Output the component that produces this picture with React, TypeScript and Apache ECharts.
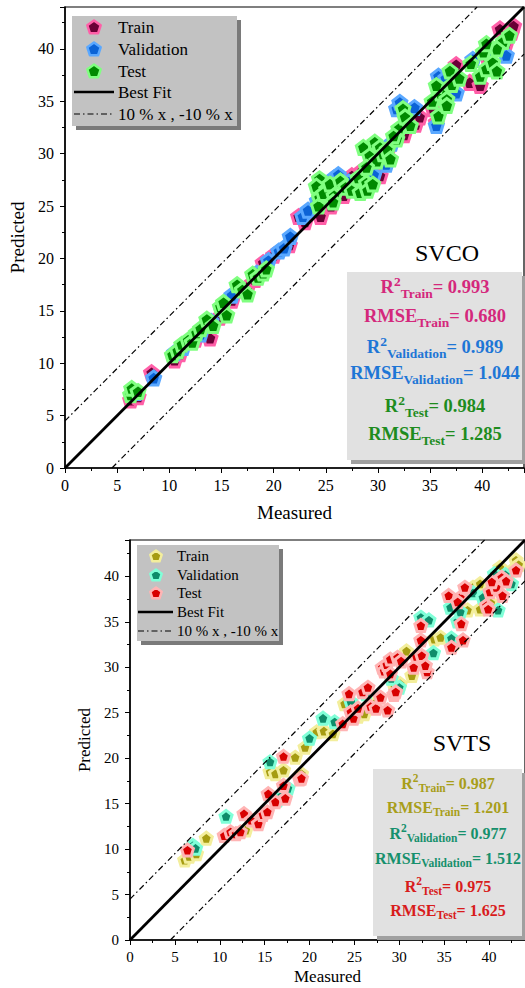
import React, { useEffect, useRef } from 'react';
import * as echarts from 'echarts';

// ---------- data (Measured, Predicted) ----------
const SVCO_TRAIN: number[][] = [
  [6.3, 6.5], [7, 6.8], [8.3, 9.1], [10.5, 10.3], [11, 10.9], [12.5, 12.3], [13.9, 12.4], [14.8, 14.4],
  [16, 16], [17.5, 17.3], [18.2, 18.0], [19, 19.6], [20, 20.3], [21.5, 21.3], [22.4, 24], [23, 23.5],
  [24.5, 24], [25.5, 25], [26.7, 26], [27.5, 27.9], [28.5, 28.4], [29.5, 28.6], [30.2, 27.9],
  [31, 30.5], [32.5, 31.8], [33.6, 32.8], [34, 33.5], [35.3, 34.3], [35.6, 33], [36.5, 36],
  [37.5, 38.5], [38.8, 36.8], [39.8, 36.5], [40.5, 39.2], [41.7, 41.9], [42.2, 40.3], [42.8, 41.6],
  [43, 42.2],
];
const SVCO_VAL: number[][] = [
  [6.8, 7.2], [8.5, 8.6], [10.5, 11], [11.3, 11.5], [13, 12.8], [14, 14], [15, 15.2], [16, 16.5],
  [18.4, 18.6], [19.5, 19.8], [20.5, 20.7], [21, 21], [21.6, 22.1], [22.8, 24], [23.3, 24.6],
  [24.2, 25.5], [25.8, 27.7], [26.2, 28], [27.2, 27.3], [29.6, 28.0], [30.8, 29], [31.3, 31],
  [31.8, 34.3], [32.1, 34.9], [33.5, 34.4], [35.6, 32.7], [35.8, 37.4], [36.5, 37.2], [37.5, 35.8],
  [39.1, 39], [40.8, 39.8], [42.3, 39.4],
];
const SVCO_TEST: number[][] = [
  [6.3, 7.0], [6.4, 7.6], [7.0, 7.3], [10.3, 10.8], [10.8, 11.2], [11.2, 11.8], [11.8, 12.2],
  [12.2, 12.0], [12.6, 12.9], [13.0, 13.3], [13.6, 14.2], [14.2, 13.6], [14.9, 15.4], [15.2, 15.8],
  [15.5, 14.6], [16.5, 17.5], [17.0, 17.0], [17.5, 16.6], [18.0, 18.5], [18.5, 18.2], [19, 18.6],
  [19.3, 19.0], [24.4, 27.6], [24.1, 26.9], [25.1, 26.6], [24.4, 25.8], [24.3, 25], [24.8, 26.2],
  [25.4, 27.1], [25.8, 26.0], [26.4, 27.4], [25.7, 25.4], [26.9, 26.8], [27.5, 26.5], [28.1, 27.7],
  [28.3, 26.3], [28.9, 27.2], [29.0, 26.5], [29.5, 27.1], [28.6, 30.6], [29.7, 31.1], [29.2, 29.8],
  [29.9, 29.3], [30.2, 30.6], [30.5, 30.0], [30.9, 30.4], [31.2, 29.5], [31.8, 31.4], [28.9, 28.7],
  [32.0, 32.4], [32.4, 34.3], [32.6, 33.5], [31.5, 31.7], [33.1, 32.7], [35.2, 35.0], [35.8, 33.6],
  [36.0, 35.8], [36.6, 35.2], [35.6, 36.5], [36.9, 37.9], [37.1, 36.6], [36.6, 34.6], [37.8, 37.2],
  [38.9, 38.6], [39.8, 37.4], [40.4, 38.1], [41.0, 38.7], [41.4, 37.9], [42, 40.7], [41.4, 40],
  [40.1, 39.7], [40.4, 40.5], [42.6, 41.3],
];

const SVTS_TRAIN: number[][] = [
  [6.1, 8.8], [6.6, 9.2], [7.4, 9.5], [8.5, 11.2], [12.9, 12.1], [15.6, 18.5], [16.2, 18.3],
  [17.1, 18.7], [18.4, 20.1], [19.1, 18.3], [19.5, 21.2], [20.8, 22.9], [21.6, 23.0], [22.6, 22.7],
  [23.9, 26], [25.4, 24.6], [26.1, 24.9], [27.2, 26], [29.5, 27.8], [30.1, 28.2], [30.8, 31.8],
  [31.4, 29.1], [33.9, 33.1], [34.6, 33.3], [36.1, 32.7], [37.6, 36.3], [38.2, 38.8], [39, 36.4],
  [39, 39.2], [40.2, 37.1], [41.2, 41], [42.6, 40.7], [43, 41.8], [43.3, 41.3],
];
const SVTS_VAL: number[][] = [
  [7, 10.4], [7.3, 10.1], [10.7, 13.6], [15.6, 19.6], [16.4, 15.4], [16.9, 15.9], [17.6, 16.7],
  [20, 22.2], [21.5, 24.4], [22.8, 24], [24.6, 26.2], [26.3, 27.1], [29.1, 28.8], [30, 27.8],
  [32.4, 35.5], [33.3, 35.2], [33.8, 31.6], [35.7, 36.6], [35.8, 33.2], [36.5, 35.1], [36.8, 36.1],
  [38.2, 38.2], [39.3, 37.7], [40.6, 40.3], [41, 36.3], [41.8, 40.2], [42.5, 39.2],
];
const SVTS_TEST: number[][] = [
  [6.4, 9.9], [10.5, 11.5], [11.2, 11.9], [11.8, 11.7], [12.3, 11.9], [12.7, 13.9], [13.5, 13.2],
  [14.3, 12.8], [14.8, 13.8], [15.3, 14.1], [15.4, 16.1], [16.2, 15.2], [17.1, 17], [17.3, 15.6],
  [18.9, 17.7], [19.1, 17.8], [17.1, 20.2], [23.7, 23.8], [24.6, 25.1], [24.9, 24.4], [24.4, 27.1],
  [25.9, 27.3], [26.5, 27.8], [25.4, 25.5], [26.8, 25.7], [27.4, 25.5], [28.7, 25.3], [29.4, 27],
  [29.6, 27.3], [27.9, 26.7], [28.1, 30], [28.3, 29.6], [28.6, 30.3], [29, 30.9], [29.8, 31.1],
  [30.2, 30.7], [29, 29.3], [31.6, 30], [31.9, 31.2], [32.5, 31.3], [32.4, 33], [33.1, 29.5],
  [32.9, 30.2], [32.4, 34.6], [35.8, 32.2], [37.1, 33], [36.9, 34.8], [35.5, 37.9], [36.8, 37.7],
  [36.5, 37.2], [37.3, 38.8], [39.7, 36.8], [39.9, 36.4], [40.1, 38.3], [40.8, 38.8], [41.4, 39.9],
  [41.9, 39.5], [41.5, 37.9], [40.3, 39.4], [43, 40.7],
];

const BEST_FIT: number[][] = [[0, 0], [44, 44]];
const PLUS_10: number[][] = [[0, 4.5], [39.5, 44]];
const MINUS_10: number[][] = [[4.5, 0], [44, 39.5]];

const X_TICKS = { min: 0, max: 44, interval: 5 };

const SVCO_STATS = [
  ['R', '2', 'Train', '0.993'], ['RMSE', '', 'Train', '0.680'],
  ['R', '2', 'Validation', '0.989'], ['RMSE', '', 'Validation', '1.044'],
  ['R', '2', 'Test', '0.984'], ['RMSE', '', 'Test', '1.285'],
];
const SVTS_STATS = [
  ['R', '2', 'Train', '0.987'], ['RMSE', '', 'Train', '1.201'],
  ['R', '2', 'Validation', '0.977'], ['RMSE', '', 'Validation', '1.512'],
  ['R', '2', 'Test', '0.975'], ['RMSE', '', 'Test', '1.625'],
];
const LEGEND_LABELS = ['Train', 'Validation', 'Test', 'Best Fit', '10 % x , -10 % x'];

// ---------- styling ----------
const FONT = 'Liberation Serif, Times New Roman, serif';
const PENTAGON = 'path://M0,-1L0.951,-0.309L0.588,0.809L-0.588,0.809L-0.951,-0.309Z';
const DASHDOT = [6, 3, 1.5, 3];

const TOP_COLORS = [
  { fill: '#6b0036', border: '#ff5fa8', text: '#d4287c' },
  { fill: '#0b63d6', border: '#5aa8ff', text: '#1e76d6' },
  { fill: '#008a00', border: '#80ff80', text: '#1e8c1e' },
];
const BOT_COLORS = [
  { fill: '#a69c12', border: '#f3ee9c', text: '#a89e1a' },
  { fill: '#0e8c6a', border: '#80ffd8', text: '#16906c' },
  { fill: '#d80000', border: '#ffb4b4', text: '#d81c1c' },
];

function pentagon(cx: number, cy: number, r: number): number[][] {
  const pts: number[][] = [];
  for (let i = 0; i < 5; i++) {
    const a = -Math.PI / 2 + (i * 2 * Math.PI) / 5;
    pts.push([cx + r * Math.cos(a), cy + r * Math.sin(a)]);
  }
  return pts;
}

function legendGraphics(cfg: any, colors: any[]) {
  const els: any[] = [];
  const { x, y, w, h, mx, tx, ys, lx0, lx1, font, r } = cfg;
  els.push({ type: 'rect', shape: { x: x + 4, y: y + 4, width: w, height: h }, style: { fill: '#7a7a7a' }, z: 10 });
  els.push({ type: 'rect', shape: { x, y, width: w, height: h }, style: { fill: '#c2c2c2' }, z: 11 });
  for (let i = 0; i < 3; i++) {
    els.push({
      type: 'polygon', shape: { points: pentagon(mx, ys[i] + 0.5, r) },
      style: { fill: colors[i].fill, stroke: colors[i].border, lineWidth: 2.5, lineJoin: 'round' }, z: 12,
    });
  }
  els.push({ type: 'line', shape: { x1: lx0, y1: ys[3], x2: lx1, y2: ys[3] }, style: { stroke: '#000', lineWidth: 2.5 }, z: 12 });
  els.push({ type: 'line', shape: { x1: lx0, y1: ys[4], x2: lx1, y2: ys[4] }, style: { stroke: '#000', lineWidth: 1.2, lineDash: DASHDOT }, z: 12 });
  for (let i = 0; i < 5; i++) {
    els.push({
      type: 'text', x: tx, y: ys[i], z: 13,
      style: { text: LEGEND_LABELS[i], fontFamily: FONT, fontSize: font, fill: '#000', align: 'left', verticalAlign: 'middle' },
    });
  }
  return els;
}

function statsGraphics(cfg: any, stats: string[][], colors: any[]) {
  const els: any[] = [];
  const { x, y, w, h, cx, ys, F, S, title, tx, ty, tsize } = cfg;
  els.push({ type: 'rect', shape: { x: x + 4, y: y + 4, width: w, height: h }, style: { fill: '#a0a0a0' }, z: 10 });
  els.push({ type: 'rect', shape: { x, y, width: w, height: h }, style: { fill: '#e1e1e1' }, z: 11 });
  els.push({
    type: 'text', x: tx, y: ty, z: 13,
    style: { text: title, fontFamily: FONT, fontSize: tsize, fill: '#000', align: 'center', verticalAlign: 'middle' },
  });
  const L = Math.round(F * 1.4);
  stats.forEach((s, i) => {
    const [main, sup, sub, val] = s;
    let txt = `{m|${main}}`;
    if (sup) txt += `{sup|${sup}}`;
    txt += `{sub|${sub}}{m|= ${val}}`;
    els.push({
      type: 'text', x: cx, y: ys[i], z: 13,
      style: {
        text: txt, align: 'center', verticalAlign: 'middle', fill: colors[Math.floor(i / 2)].text,
        fontFamily: FONT, fontWeight: 'bold', fontSize: F,
        rich: {
          m: { fontFamily: FONT, fontWeight: 'bold', fontSize: F, lineHeight: L, verticalAlign: 'middle' },
          sup: { fontFamily: FONT, fontWeight: 'bold', fontSize: S, lineHeight: S + 4, verticalAlign: 'top' },
          sub: { fontFamily: FONT, fontWeight: 'bold', fontSize: S, lineHeight: S, verticalAlign: 'bottom' },
        },
      },
    });
  });
  return els;
}

function axisPair(gi: number, fs: number, nameSize: number, xGap: number, yGap: number) {
  const common = {
    gridIndex: gi, type: 'value', min: X_TICKS.min, max: X_TICKS.max, interval: X_TICKS.interval,
    nameLocation: 'middle', nameTextStyle: { fontFamily: FONT, fontSize: nameSize, color: '#000' },
    axisLine: { show: true, onZero: false, lineStyle: { color: '#000', width: 1.5 } },
    axisTick: { show: true, inside: false, length: 5, lineStyle: { color: '#000', width: 1 } },
    minorTick: { show: true, splitNumber: 2, length: 3, lineStyle: { color: '#000', width: 1 } },
    splitLine: { show: false },
    axisLabel: { fontFamily: FONT, fontSize: fs, color: '#000', margin: 9, showMaxLabel: false },
  };
  return {
    x: { ...common, name: 'Measured', nameGap: xGap },
    y: { ...common, name: 'Predicted', nameGap: yGap, axisLabel: { ...common.axisLabel, margin: 11 } },
  };
}

function seriesFor(gi: number, sets: number[][][], colors: any[], size: number) {
  const names = ['Train', 'Validation', 'Test'];
  const out: any[] = sets.map((d, i) => ({
    type: 'scatter', name: names[i], xAxisIndex: gi, yAxisIndex: gi, data: d,
    symbol: PENTAGON, symbolSize: size, z: 2 + i * 0.1,
    itemStyle: { color: colors[i].fill, borderColor: colors[i].border, borderWidth: 3, opacity: 1 },
  }));
  out.push({
    type: 'line', xAxisIndex: gi, yAxisIndex: gi, data: BEST_FIT, symbol: 'none', z: 5,
    lineStyle: { color: '#000', width: 2.8 },
  });
  [PLUS_10, MINUS_10].forEach((d) => out.push({
    type: 'line', xAxisIndex: gi, yAxisIndex: gi, data: d, symbol: 'none', z: 5,
    lineStyle: { color: '#000', width: 1.2, type: DASHDOT },
  }));
  return out;
}

export default function App() {
  const ref = useRef<HTMLDivElement>(null);
  useEffect(() => {
    if (!ref.current) return;
    const chart = echarts.init(ref.current, null, { renderer: 'svg' });
    const a0 = axisPair(0, 16, 19, 35, 34);
    const a1 = axisPair(1, 15, 17, 28, 27);
    const option: any = {
      animation: false,
      backgroundColor: '#fff',
      grid: [
        { left: 65, top: 7, width: 459, height: 461, show: true, borderColor: '#000', borderWidth: 1.2, backgroundColor: 'transparent' },
        { left: 130, top: 540, width: 399, height: 400, show: true, borderColor: '#000', borderWidth: 1.2, backgroundColor: 'transparent' },
      ],
      xAxis: [a0.x, a1.x],
      yAxis: [a0.y, a1.y],
      series: [
        ...seriesFor(0, [SVCO_TRAIN, SVCO_VAL, SVCO_TEST], TOP_COLORS, 14),
        ...seriesFor(1, [SVTS_TRAIN, SVTS_VAL, SVTS_TEST], BOT_COLORS, 12),
      ],
      graphic: [
        ...legendGraphics({ x: 72, y: 16, w: 165, h: 110, mx: 94, tx: 118, ys: [27, 49, 71, 92, 114], lx0: 74, lx1: 114, font: 17, r: 7 }, TOP_COLORS),
        ...legendGraphics({ x: 137, y: 545, w: 142, h: 96, mx: 156, tx: 177, ys: [556, 575, 593, 612, 631], lx0: 138, lx1: 173, font: 15, r: 6 }, BOT_COLORS),
        ...statsGraphics({ x: 347, y: 272, w: 175, h: 188, cx: 435, ys: [287, 316, 347, 373, 406, 434], F: 18.5, S: 13.5, title: 'SVCO', tx: 447, ty: 253, tsize: 24 }, SVCO_STATS, TOP_COLORS),
        ...statsGraphics({ x: 373, y: 769, w: 149, h: 167, cx: 448, ys: [783, 807, 833, 858, 886, 910], F: 16, S: 11.5, title: 'SVTS', tx: 462, ty: 743, tsize: 24 }, SVTS_STATS, BOT_COLORS),
      ],
    };
    chart.setOption(option);
    return () => chart.dispose();
  }, []);
  return <div ref={ref} style={{ position: 'absolute', left: 0, top: 0, width: 525, height: 988 }} />;
}
